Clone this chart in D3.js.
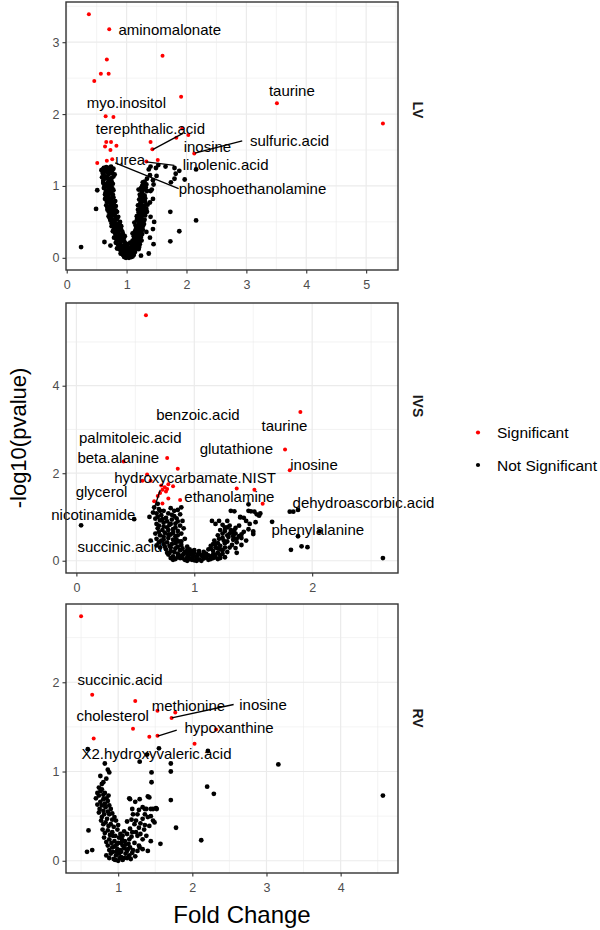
<!DOCTYPE html>
<html><head><meta charset="utf-8">
<script src="https://cdn.jsdelivr.net/npm/d3@7"></script>
<style>body{margin:0;background:#fff}svg{display:block}text{font-family:"Liberation Sans",Arial,Helvetica,sans-serif}</style>
</head><body><svg id="c" width="600" height="930"></svg>
<script>
// ---------------- DATA ----------------
const facets = ["LV", "IVS", "RV"];
const legendLabels = ["Significant", "Not Significant"];
const xTitle = "Fold Change";
const yTitle = "-log10(pvalue)";

// LV : [fold change, -log10(p)]
const lvSig = [[0.37,3.39],[0.71,3.18],[1.60,2.81],[0.67,2.76],[0.57,2.56],[0.70,2.56],[0.46,2.46],[1.91,2.24],[3.51,2.15],[5.28,1.87],[0.65,1.97],[0.78,1.96],[2.03,1.71],[1.93,1.80],[1.83,1.67],[1.40,1.61],[0.66,1.61],[0.74,1.61],[0.64,1.55],[0.83,1.56],[0.73,1.50],[1.43,1.51],[2.13,1.45],[0.51,1.32],[0.67,1.35],[0.76,1.37],[1.33,1.34],[1.52,1.36]];
const lvNon = [
[0.58,1.22],[0.62,1.25],[0.66,1.26],[0.70,1.25],[0.74,1.27],[0.78,1.24],[0.60,1.18],[0.64,1.20],[0.68,1.19],[0.72,1.21],[0.76,1.18],[0.80,1.16],
[0.59,1.12],[0.63,1.10],[0.67,1.13],[0.71,1.08],[0.75,1.11],[0.61,1.04],[0.65,1.02],[0.69,1.05],[0.73,1.00],[0.77,1.03],
[0.62,0.97],[0.66,0.93],[0.70,0.95],[0.74,0.91],[0.64,0.88],[0.68,0.86],[0.72,0.89],[0.78,0.94],
[0.64,0.82],[0.67,0.78],[0.71,0.80],[0.75,0.83],[0.79,0.77],[0.66,0.73],[0.70,0.71],[0.74,0.74],[0.82,0.72],
[0.68,0.67],[0.72,0.63],[0.76,0.66],[0.80,0.60],[0.84,0.64],[0.70,0.58],[0.74,0.56],[0.78,0.59],[0.86,0.57],
[0.73,0.52],[0.77,0.49],[0.81,0.53],[0.85,0.47],[0.89,0.50],[0.75,0.44],[0.79,0.42],[0.83,0.45],[0.87,0.41],[0.91,0.44],
[0.77,0.37],[0.81,0.34],[0.85,0.38],[0.89,0.32],[0.93,0.36],[0.97,0.30],[0.79,0.28],[0.83,0.26],[0.87,0.29],[0.91,0.25],[0.95,0.27],
[0.82,0.21],[0.86,0.18],[0.90,0.22],[0.94,0.17],[0.98,0.20],[1.02,0.15],[0.88,0.12],[0.92,0.14],[0.96,0.11],[1.00,0.13],[1.04,0.10],[0.84,0.13],
[0.90,0.06],[0.94,0.04],[0.98,0.07],[1.02,0.03],[1.06,0.05],[1.10,0.02],[0.96,0.01],[1.00,0.02],[1.04,0.00],[1.08,0.01],[1.12,0.04],[1.14,0.08],[0.93,0.09],
[1.08,0.18],[1.12,0.14],[1.16,0.20],[1.20,0.12],[1.10,0.24],[1.14,0.22],[1.18,0.16],[1.22,0.19],[1.06,0.21],
[1.12,0.30],[1.16,0.27],[1.20,0.33],[1.24,0.29],[1.14,0.37],[1.18,0.35],[1.22,0.38],[1.26,0.33],[1.10,0.34],
[1.15,0.45],[1.19,0.42],[1.23,0.48],[1.27,0.44],[1.17,0.52],[1.21,0.50],[1.25,0.54],[1.29,0.47],[1.13,0.49],
[1.17,0.58],[1.21,0.61],[1.25,0.57],[1.29,0.63],[1.19,0.67],[1.23,0.69],[1.27,0.65],[1.31,0.59],[1.33,0.68],
[1.19,0.73],[1.23,0.76],[1.27,0.72],[1.31,0.78],[1.21,0.81],[1.25,0.83],[1.29,0.80],[1.35,0.74],
[1.22,0.88],[1.26,0.91],[1.30,0.87],[1.34,0.93],[1.24,0.97],[1.28,1.00],[1.32,0.98],[1.20,0.95],[1.27,1.05],
[0.60,1.23],[0.68,1.23],[0.76,1.22],[0.62,1.15],[0.70,1.16],[0.78,1.13],[0.61,1.07],[0.69,1.10],[0.75,1.06],[0.63,1.00],[0.67,0.99],[0.71,1.01],[0.76,0.97],[0.65,0.91],[0.69,0.90],[0.73,0.94],[0.77,0.88],[0.66,0.85],[0.70,0.83],[0.74,0.80],[0.78,0.84],[0.69,0.77],[0.73,0.77],[0.77,0.72],[0.81,0.79],[0.68,0.70],[0.72,0.68],[0.78,0.69],[0.82,0.66],[0.70,0.64],[0.74,0.61],[0.78,0.63],[0.82,0.57],[0.72,0.55],[0.76,0.53],[0.80,0.50],[0.84,0.54],[0.88,0.46],[0.75,0.48],[0.79,0.46],[0.83,0.40],[0.87,0.48],[0.91,0.39],[0.79,0.39],[0.82,0.31],[0.86,0.35],[0.90,0.29],[0.94,0.33],[0.96,0.23],[0.85,0.24],[0.89,0.19],[0.93,0.25],[0.97,0.16],[1.01,0.19],[0.89,0.16],[0.91,0.09],[0.95,0.13],[0.99,0.09],[1.03,0.12],[1.07,0.08],[0.97,0.03],[1.01,0.06],[1.05,0.02],[1.09,0.06],[0.99,0.00],[1.03,0.07],[1.07,0.12],[1.11,0.10],[1.13,0.16],[1.17,0.13],[1.09,0.15],
[1.11,0.20],[1.15,0.17],[1.19,0.22],[1.21,0.15],[1.13,0.27],[1.17,0.30],[1.21,0.26],[1.25,0.24],[1.15,0.32],[1.19,0.39],[1.23,0.35],[1.27,0.39],[1.16,0.41],[1.20,0.46],[1.24,0.43],[1.28,0.51],[1.18,0.55],[1.22,0.55],[1.26,0.60],[1.30,0.53],[1.20,0.63],[1.24,0.65],[1.28,0.69],[1.32,0.64],[1.22,0.74],[1.26,0.78],[1.30,0.72],[1.23,0.85],[1.27,0.87],[1.31,0.83],[1.25,0.93],[1.29,0.95],[1.33,1.02],[1.26,1.00],
[1.34,1.10],[1.30,1.06],[1.39,0.77],[1.34,0.64],[1.40,0.57],[1.33,0.36],[1.39,0.28],[1.24,0.03],[1.37,0.06],[1.45,0.19],[1.44,0.40],[1.46,0.50],[1.44,0.82],
[0.63,0.22],[0.73,0.17],[0.51,0.94],[0.49,0.68],[0.24,0.15],
[2.16,0.52],[1.73,0.64],[1.88,0.37],[1.73,0.23],[1.97,1.09],[1.88,1.21],[1.80,1.25],[1.80,1.10],[2.16,1.23],[1.65,1.27],[1.53,1.29],[1.40,1.27],[1.37,1.23],[1.50,1.14],[1.40,0.93],[1.45,1.02],[1.42,0.95],[1.39,1.15],[1.44,1.08],[1.49,1.25],[1.82,1.17],[1.74,1.05]];

// IVS
const ivsSig = [[0.59,5.61],[1.90,3.40],[1.77,2.54],[1.81,2.07],[0.40,2.27],[0.77,2.35],[0.86,2.10],[0.60,1.97],[0.56,1.83],[0.63,1.83],[0.72,1.72],[0.75,1.68],[0.78,1.75],[0.73,1.62],[0.76,1.58],[0.71,1.55],[0.77,1.64],[0.82,1.70],[0.88,1.39],[0.73,1.31],[0.78,1.42],[1.36,1.65],[1.51,1.62],[1.58,1.30],[0.66,1.36],[0.69,1.48]];
const ivsNon = [
[0.04,0.81],[0.49,0.95],[2.60,0.06],[1.82,0.25],[1.91,0.33],[1.96,0.31],[1.88,0.56],[2.06,0.67],[1.66,0.89],[1.81,1.12],[1.84,1.12],[1.88,1.16],[1.56,1.08],[1.46,1.29],[1.34,1.13],[1.46,1.14],[1.51,1.12],[1.55,1.03],[1.39,1.00],[1.52,0.88],[1.50,0.67],[1.50,0.61],[1.38,0.80],[1.44,0.91],[1.42,0.98],[1.35,0.75],[1.32,0.65],[1.40,0.52],[1.28,0.91],[1.28,0.76],[1.35,0.29],
[0.66,1.22],[0.70,1.18],[0.74,1.14],[0.80,1.20],[0.86,1.16],[0.89,1.22],[0.68,1.08],[0.72,1.04],[0.78,1.08],[0.83,1.02],[0.88,1.06],[0.67,0.96],[0.71,0.92],[0.76,0.98],[0.81,0.94],[0.86,0.90],[0.90,0.91],[0.68,0.84],[0.74,0.87],[0.79,0.82],[0.84,0.85],[0.88,0.80],[0.69,0.74],[0.73,0.70],[0.77,0.76],[0.82,0.72],[0.86,0.68],[0.91,0.74],[0.67,0.62],[0.71,0.58],[0.75,0.64],[0.80,0.60],[0.84,0.56],[0.89,0.62],[0.68,0.50],[0.72,0.46],[0.78,0.52],[0.82,0.48],[0.87,0.44],[0.92,0.50],[0.63,0.46],[0.68,0.35],[0.74,0.38],[0.79,0.34],[0.84,0.40],[0.89,0.36],[0.94,0.32],
[0.76,0.26],[0.80,0.22],[0.84,0.28],[0.88,0.24],[0.92,0.20],[0.96,0.26],[0.78,0.14],[0.82,0.10],[0.86,0.16],[0.90,0.12],[0.94,0.08],[0.98,0.14],[1.02,0.10],[0.84,0.04],[0.88,0.06],[0.92,0.02],[0.96,0.04],[1.00,0.01],[1.04,0.03],[1.08,0.05],[1.12,0.02],[1.16,0.06],[1.20,0.04],[1.06,0.12],[1.10,0.16],[1.14,0.10],[1.18,0.14],[1.22,0.12],[1.26,0.08],[1.00,0.18],[1.04,0.22],[1.08,0.20],[0.98,0.06],[1.02,0.00],[0.94,0.16],[0.80,0.06],[0.77,0.18],
[1.12,0.26],[1.16,0.22],[1.20,0.28],[1.24,0.24],[1.28,0.20],[1.30,0.30],[1.14,0.34],[1.18,0.38],[1.22,0.34],[1.26,0.40],[1.32,0.36],[1.36,0.42],[1.17,0.46],[1.21,0.50],[1.25,0.46],[1.29,0.54],[1.33,0.48],[1.38,0.56],[1.20,0.58],[1.24,0.62],[1.28,0.58],[1.31,0.70],[1.35,0.62],[1.42,0.66],[1.46,0.72],[1.22,0.70],[1.26,0.76],[1.15,0.91],[1.21,0.91],[1.31,1.14],[1.39,0.99],[1.48,1.13],[1.47,0.84],[1.53,1.06],[1.44,0.46],[1.40,0.36],[1.36,0.18],
[0.69,1.30],[0.71,1.14],[0.83,1.14],[0.62,1.00],
[0.65,1.10],[0.69,1.00],[0.73,0.95],[0.77,0.90],[0.81,1.05],[0.85,0.97],[0.70,0.80],[0.74,0.78],[0.78,0.70],[0.80,0.84],[0.84,0.76],[0.70,0.66],[0.74,0.55],[0.78,0.60],[0.82,0.64],[0.86,0.58],[0.70,0.42],[0.74,0.48],[0.77,0.42],[0.81,0.38],[0.85,0.48],[0.89,0.44],[0.71,0.30],[0.75,0.32],[0.80,0.30],[0.86,0.32],[0.90,0.28],[0.94,0.24],[0.98,0.22],[0.79,0.18],[0.83,0.20],[0.87,0.12],[0.91,0.16],[0.95,0.12],[0.99,0.10],[1.03,0.14],[1.07,0.10],[0.82,0.02],[0.86,0.08],[0.90,0.06],[0.94,0.00],[0.98,0.02],[1.02,0.05],[1.06,0.00],[1.10,0.07],[1.14,0.04],[1.18,0.08],[1.22,0.06],[1.24,0.16],[1.20,0.18],[1.16,0.14],[1.12,0.12],[1.08,0.15],[1.04,0.18],[1.00,0.24],[0.96,0.18],[1.26,0.30],[1.22,0.26],[1.18,0.30],[1.14,0.28],[1.28,0.44],[1.24,0.52],[1.20,0.40],[1.16,0.38],[1.30,0.62],[1.26,0.68],[1.33,0.56],[1.36,0.50],[1.30,0.80],[1.34,0.70],[1.40,0.60],[1.18,0.84],[1.24,0.82]];

// RV
const rvSig = [[0.50,2.74],[0.65,1.86],[1.23,1.79],[1.53,1.68],[1.77,1.66],[1.72,1.60],[1.20,1.48],[2.32,1.47],[1.42,1.39],[1.53,1.40],[0.67,1.37],[2.03,1.31]];
const rvNon = [
[3.16,1.08],[4.57,0.73],[2.20,0.83],[2.29,0.75],[2.12,0.23],[1.78,0.37],[1.57,0.19],[1.71,0.68],[1.71,1.00],[1.71,1.09],[1.45,0.88],[1.45,0.99],[1.55,1.26],[2.21,1.23],[1.42,0.71],[1.47,0.58],[1.52,0.58],[1.38,0.58],[1.29,1.11],[1.39,1.19],[0.60,0.34],[0.58,0.10],[0.82,1.09],[0.86,1.02],[0.88,0.99],[0.84,0.92],[0.59,1.25],[0.76,0.95],[0.80,0.88],
[0.74,0.82],[0.78,0.80],[0.82,0.76],[0.87,0.73],[0.74,0.73],[0.80,0.69],[0.86,0.67],[0.72,0.63],[0.78,0.62],[0.83,0.60],[0.90,0.58],[0.74,0.54],[0.81,0.52],[0.88,0.52],[0.95,0.49],[0.77,0.45],[0.83,0.43],[0.90,0.41],[0.97,0.45],[0.79,0.35],[0.86,0.34],[0.92,0.32],[0.99,0.35],[0.81,0.26],[0.88,0.24],[0.95,0.22],[1.01,0.26],[0.86,0.17],[0.92,0.15],[0.99,0.13],[1.06,0.17],[0.90,0.08],[0.97,0.06],[1.04,0.04],[1.10,0.08],[0.65,0.12],
[0.94,0.02],[1.00,0.00],[1.02,0.03],[1.06,0.01],[0.98,0.10],[1.03,0.12],[1.08,0.14],[0.95,0.16],[1.00,0.20],[1.05,0.24],[0.93,0.28],[1.12,0.03],[1.15,0.06],[0.84,0.06],[0.88,0.12],
[1.15,0.70],[1.23,0.66],[1.33,0.60],[1.44,0.58],[1.51,0.59],[1.40,0.72],[1.19,0.58],[1.26,0.52],[1.33,0.47],[1.40,0.49],[1.47,0.45],[1.22,0.41],[1.28,0.37],[1.35,0.35],[1.42,0.39],[1.19,0.32],[1.26,0.28],[1.33,0.24],[1.15,0.24],[1.22,0.20],[1.28,0.17],[1.13,0.13],[1.19,0.09],[1.26,0.11],[1.49,0.43],[1.38,0.28],[1.44,0.22],[1.33,0.13],[1.16,0.69],[1.29,0.69],[1.36,0.58],[1.40,0.11],[1.29,0.15],
[0.76,0.78],[0.80,0.74],[0.84,0.70],[0.76,0.66],[0.82,0.64],[0.88,0.62],[0.75,0.58],[0.80,0.56],[0.86,0.55],[0.92,0.53],[0.78,0.49],[0.85,0.47],[0.92,0.46],[0.80,0.41],[0.87,0.39],[0.94,0.38],[1.00,0.40],[0.82,0.31],[0.89,0.29],[0.96,0.28],[1.03,0.30],[0.84,0.21],[0.91,0.20],[0.98,0.18],[1.04,0.20],[1.09,0.22],[0.88,0.03],[0.93,0.10],[0.96,0.01],[1.01,0.08],[1.04,0.10],[1.08,0.03],[1.12,0.11],[1.16,0.15],[1.10,0.18],[1.14,0.19],[1.18,0.27],[1.12,0.30],[1.08,0.33],[1.06,0.28],[1.16,0.36],[1.12,0.44],[1.18,0.46],[1.24,0.45],[1.30,0.42],[1.20,0.52],[1.28,0.57],[1.36,0.52],[1.44,0.50],[1.24,0.32],[1.30,0.30],[1.36,0.40],[1.20,0.12],[1.23,0.05],[1.17,0.02],[0.70,0.70],[0.72,0.76],[0.78,0.86]];

// tick values per facet
const lvXTicks = [0,1,2,3,4,5], lvYTicks = [0,1,2,3];
const ivsXTicks = [0,1,2], ivsYTicks = [0,2,4];
const rvXTicks = [1,2,3,4], rvYTicks = [0,1,2];

// labels: [text, labelFC, labelP] (text start / baseline, data units)
const lvLabels = [["aminomalonate",0.864,3.10],["taurine",3.377,2.251],["myo.inositol",0.335,2.079],["terephthalic.acid",0.486,1.720],["sulfuric.acid",3.059,1.561],["inosine",1.953,1.478],["urea",0.809,1.289],["linolenic.acid",1.936,1.215],["phosphoethanolamine",1.869,0.884]];
const lvSegs = [[1.434,1.506,1.948,1.736],[2.141,1.457,2.931,1.627],[1.328,1.336,1.797,1.285],[0.809,1.322,1.869,0.963]];
const ivsLabels = [["benzoic.acid",0.677,3.223],["taurine",1.570,2.971],["palmitoleic.acid",0.022,2.681],["glutathione",1.046,2.439],["beta.alanine",0.0085,2.224],["inosine",1.814,2.064],["hydroxycarbamate.NIST",0.321,1.783],["glycerol",-0.006,1.456],["ethanolamine",0.916,1.333],["dehydroascorbic.acid",1.834,1.195],["nicotinamide",-0.213,0.937],["phenylalanine",1.655,0.587],["succinic.acid",0.0085,0.190]];
const ivsSegs = [[0.654,1.143,0.711,1.616]];
const rvLabels = [["succinic.acid",0.451,1.974],["methionine",1.452,1.678],["inosine",2.633,1.689],["cholesterol",0.437,1.564],["hypoxanthine",1.893,1.427],["X2.hydroxyvaleric.acid",0.505,1.144]];
const rvSegs = [[1.723,1.602,2.557,1.751],[1.533,1.397,1.790,1.464]];

// ---------------- LAYOUT ----------------
const L = 66, R = 398;
const panels = [
  {name: facets[0], sig: lvSig, non: lvNon, xt: lvXTicks, yt: lvYTicks, labels: lvLabels, segs: lvSegs, top: 2, bottom: 270, stripY: 110},
  {name: facets[1], sig: ivsSig, non: ivsNon, xt: ivsXTicks, yt: ivsYTicks, labels: ivsLabels, segs: ivsSegs, top: 303, bottom: 573, stripY: 406},
  {name: facets[2], sig: rvSig, non: rvNon, xt: rvXTicks, yt: rvYTicks, labels: rvLabels, segs: rvSegs, top: 604, bottom: 873, stripY: 718}
];
const RED = "#FF0000", BLACK = "#000000";
const GRID = "#EBEBEB", BORDER = "#333333", TICKTXT = "#4D4D4D";

const svg = d3.select("#c");

function minors(ticks, domain) {
  const step = ticks[1] - ticks[0];
  const out = [];
  for (let v = ticks[0] - step / 2; v <= domain[1]; v += step) if (v >= domain[0]) out.push(v);
  return out;
}

panels.forEach(p => {
  const all = p.sig.concat(p.non);
  const xe = d3.extent(all, d => d[0]), ye = d3.extent(all, d => d[1]);
  const xpad = (xe[1] - xe[0]) * 0.05, ypad = (ye[1] - ye[0]) * 0.05;
  const x = d3.scaleLinear().domain([xe[0] - xpad, xe[1] + xpad]).range([L, R]);
  const y = d3.scaleLinear().domain([ye[0] - ypad, ye[1] + ypad]).range([p.bottom, p.top]);
  const g = svg.append("g");

  // grid
  const gx = g.append("g");
  gx.selectAll(".mnx").data(minors(p.xt, x.domain())).join("line")
    .attr("x1", d => x(d)).attr("x2", d => x(d)).attr("y1", p.top).attr("y2", p.bottom)
    .attr("stroke", GRID).attr("stroke-width", 0.6);
  gx.selectAll(".mny").data(minors(p.yt, y.domain())).join("line")
    .attr("y1", d => y(d)).attr("y2", d => y(d)).attr("x1", L).attr("x2", R)
    .attr("stroke", GRID).attr("stroke-width", 0.6);
  gx.selectAll(".mjx").data(p.xt).join("line")
    .attr("x1", d => x(d)).attr("x2", d => x(d)).attr("y1", p.top).attr("y2", p.bottom)
    .attr("stroke", GRID).attr("stroke-width", 1.2);
  gx.selectAll(".mjy").data(p.yt).join("line")
    .attr("y1", d => y(d)).attr("y2", d => y(d)).attr("x1", L).attr("x2", R)
    .attr("stroke", GRID).attr("stroke-width", 1.2);

  // points
  g.append("g").selectAll("circle").data(p.non).join("circle")
    .attr("cx", d => x(d[0])).attr("cy", d => y(d[1])).attr("r", 2.4).attr("fill", BLACK);
  g.append("g").selectAll("circle").data(p.sig).join("circle")
    .attr("cx", d => x(d[0])).attr("cy", d => y(d[1])).attr("r", 2.0).attr("fill", RED);

  // segments and labels
  g.append("g").selectAll("line").data(p.segs).join("line")
    .attr("x1", d => x(d[0])).attr("y1", d => y(d[1])).attr("x2", d => x(d[2])).attr("y2", d => y(d[3]))
    .attr("stroke", BLACK).attr("stroke-width", 1.3);
  g.append("g").selectAll("text").data(p.labels).join("text")
    .attr("x", d => x(d[1])).attr("y", d => y(d[2]))
    .attr("font-size", 15).attr("fill", BLACK).text(d => d[0]);

  // border
  g.append("rect").attr("x", L).attr("y", p.top).attr("width", R - L).attr("height", p.bottom - p.top)
    .attr("fill", "none").attr("stroke", BORDER).attr("stroke-width", 1.4);

  // axes
  const ax = g.append("g").attr("transform", `translate(0,${p.bottom})`)
    .call(d3.axisBottom(x).tickValues(p.xt).tickFormat(d3.format("d")).tickSize(3.5).tickPadding(7));
  const ay = g.append("g").attr("transform", `translate(${L},0)`)
    .call(d3.axisLeft(y).tickValues(p.yt).tickFormat(d3.format("d")).tickSize(3.5).tickPadding(3));
  [ax, ay].forEach(a => {
    a.select(".domain").remove();
    a.selectAll(".tick line").attr("stroke", BORDER).attr("stroke-width", 1.1);
    a.selectAll(".tick text").attr("fill", TICKTXT).attr("font-size", 12.5)
      .attr("font-family", '"Liberation Sans",Arial,sans-serif');
  });

  // strip label
  svg.append("text").attr("transform", `translate(413,${p.stripY}) rotate(90)`)
    .attr("text-anchor", "middle").attr("font-size", 14).attr("font-weight", "bold")
    .attr("fill", "#1A1A1A").text(p.name);
});

// axis titles
svg.append("text").attr("x", 242).attr("y", 923).attr("text-anchor", "middle")
  .attr("font-size", 24).attr("fill", BLACK).text(xTitle);
svg.append("text").attr("transform", "translate(26,438) rotate(-90)").attr("text-anchor", "middle")
  .attr("font-size", 22).attr("fill", BLACK).text(yTitle);

// legend
const legColors = [RED, BLACK];
const lg = svg.append("g");
lg.selectAll("circle").data(legendLabels).join("circle")
  .attr("cx", 478).attr("cy", (d, i) => 432.5 + i * 32.5).attr("r", 2.1).attr("fill", (d, i) => legColors[i]);
lg.selectAll("text").data(legendLabels).join("text")
  .attr("x", 497).attr("y", (d, i) => 438 + i * 32.5).attr("font-size", 15.5).attr("fill", BLACK).text(d => d);
</script></body></html>
